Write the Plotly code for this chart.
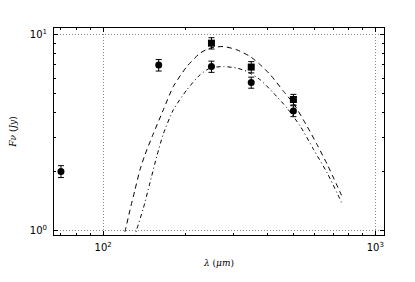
import plotly.graph_objects as go

# ---- data ----
circ_x = [70, 160, 250, 350, 500]
circ_y = [2.01, 6.99, 6.87, 5.70, 4.08]
circ_err = [0.14, 0.47, 0.45, 0.37, 0.26]

sq_x = [250, 350, 500]
sq_y = [9.04, 6.83, 4.67]
sq_err = [0.60, 0.45, 0.29]

dash_x = [118.2, 120.5, 125.5, 130.9, 136.6, 142.4, 152.8, 166.4, 181.1, 203, 227, 247,
          277, 310, 347, 378, 411.5, 460.6, 501, 562, 611, 666, 751]
dash_y = [0.89, 1.0, 1.28, 1.62, 2.05, 2.44, 3.12, 4.14, 5.44, 6.87, 8.04, 8.53,
          8.69, 8.36, 7.73, 7.01, 6.24, 5.13, 4.45, 3.40, 2.75, 2.18, 1.52]

dd_x = [130, 132.8, 140.4, 148.6, 157.4, 166.4, 181.1, 203, 227, 247, 277, 310,
        338, 378, 423, 474, 531, 594, 666, 751]
dd_y = [0.91, 1.015, 1.30, 1.76, 2.40, 3.12, 4.14, 5.23, 6.24, 6.75, 6.87, 6.75,
        6.48, 5.88, 5.03, 4.22, 3.40, 2.59, 1.97, 1.40]

x_major = [100, 1000]
x_major_text = ["10<sup>2</sup>", "10<sup>3</sup>"]
y_major = [1, 10]
y_major_text = ["10<sup>0</sup>", "10<sup>1</sup>"]
x_minor = [70, 80, 90, 200, 300, 400, 500, 600, 700, 800, 900]
y_minor = [2, 3, 4, 5, 6, 7, 8, 9]

fig = go.Figure()
fig.add_trace(go.Scatter(x=dash_x, y=dash_y, mode="lines",
                         line=dict(color="black", width=1, dash="5px,4px", shape="spline", smoothing=0.6),
                         showlegend=False))
fig.add_trace(go.Scatter(x=dd_x, y=dd_y, mode="lines",
                         line=dict(color="black", width=1, dash="4px,3px,1px,3px", shape="spline", smoothing=0.6),
                         showlegend=False))
fig.add_trace(go.Scatter(x=circ_x, y=circ_y, mode="markers",
                         marker=dict(symbol="circle", size=7, color="black"),
                         error_y=dict(type="data", array=circ_err, color="black", thickness=1, width=3),
                         showlegend=False))
fig.add_trace(go.Scatter(x=sq_x, y=sq_y, mode="markers",
                         marker=dict(symbol="square", size=7, color="black"),
                         error_y=dict(type="data", array=sq_err, color="black", thickness=1, width=3),
                         showlegend=False))

axis_common = dict(
    type="log", showline=True, linecolor="black", linewidth=1, mirror="allticks",
    ticks="inside", ticklen=4, tickcolor="black", tickwidth=1,
    showgrid=True, gridcolor="#888", griddash="1px,2px", gridwidth=1,
    zeroline=False, tickmode="array", automargin=False,
    tickfont=dict(family="DejaVu Sans", size=10, color="black"),
)

fig.update_xaxes(**axis_common, range=[1.8195, 3.0318], tickvals=x_major, ticktext=x_major_text,
                 ticklabelstandoff=3,
                 minor=dict(tickmode="array", tickvals=x_minor, ticks="inside", ticklen=2,
                            tickcolor="black", showgrid=False),
                 title=dict(text="<i>λ</i> (<i>μm</i>)", font=dict(family="DejaVu Serif", size=9, color="black"),
                            standoff=7))
fig.update_yaxes(**axis_common, range=[-0.0205, 1.0334], tickvals=y_major, ticktext=y_major_text,
                 ticklabelstandoff=4,
                 minor=dict(tickmode="array", tickvals=y_minor, ticks="inside", ticklen=2,
                            tickcolor="black", showgrid=False),
                 title=dict(text="<i>Fν</i> (<i>Jy</i>)", font=dict(family="DejaVu Serif", size=9, color="black"),
                            standoff=13))

# page body has an 8px default margin; shift the plot area accordingly
fig.update_layout(width=415, height=282, margin=dict(l=46, r=39, t=20, b=55),
                  paper_bgcolor="white", plot_bgcolor="white")

fig.write_html("out.html")
